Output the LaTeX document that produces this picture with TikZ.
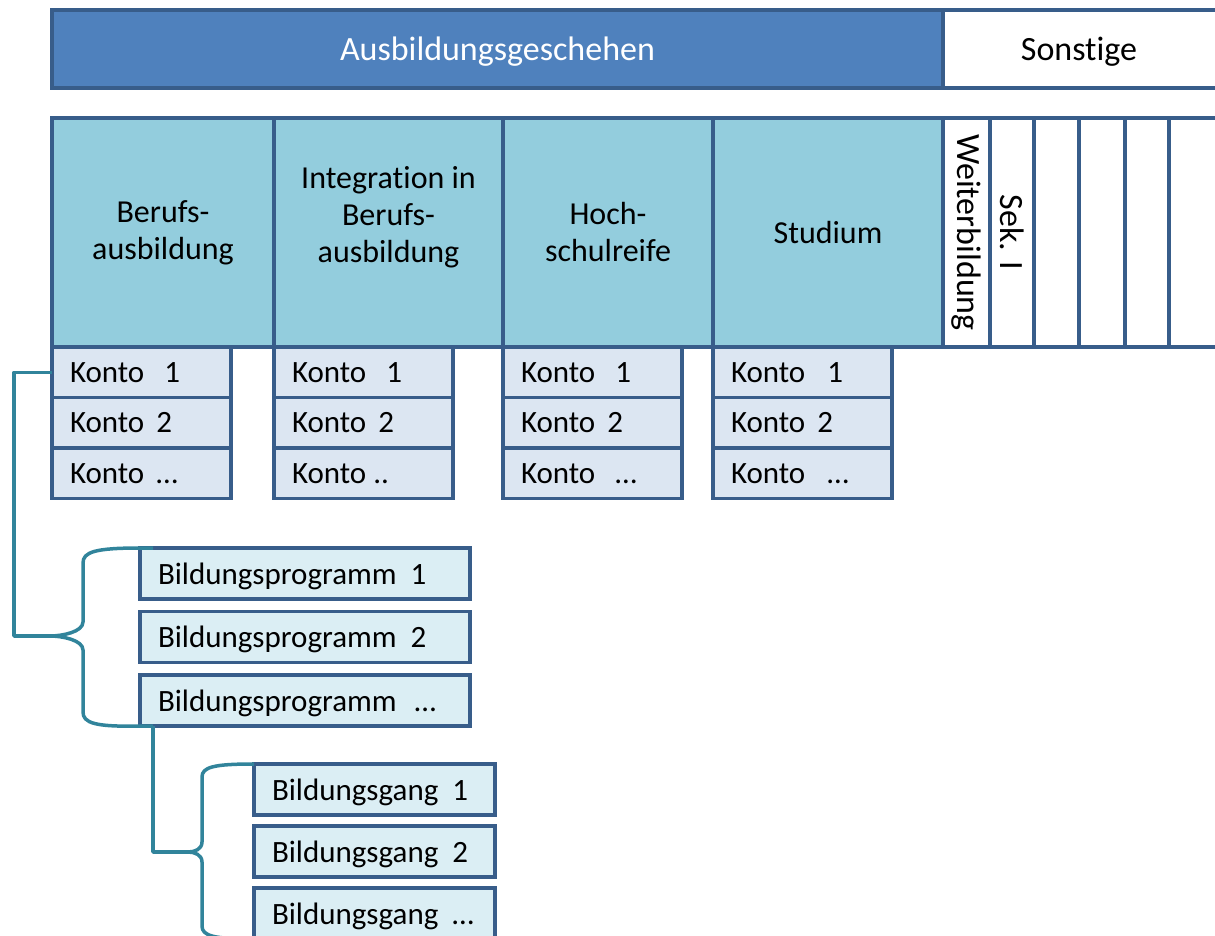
\documentclass[tikz,border=0pt]{standalone}
\usepackage{fontspec}
\setmainfont{Carlito}[Ligatures=NoCommon]
\usetikzlibrary{positioning}
\definecolor{rahmen}{HTML}{385D8A}
\definecolor{dunkelblau}{HTML}{4F81BD}
\definecolor{hellblau}{HTML}{93CDDD}
\definecolor{kontofarbe}{HTML}{DCE6F2}
\definecolor{progfarbe}{HTML}{DBEEF4}
\definecolor{klammer}{HTML}{31849B}
\begin{document}
\begin{tikzpicture}[x=1pt,y=-1pt,line width=3.5pt,
  feld/.style={draw=rahmen,inner sep=0pt,outer sep=0pt,anchor=north west,
    align=center,font=\fontsize{32}{37}\selectfont},
  kopf/.style={feld,minimum height=78,text depth=0pt,font=\fontsize{34}{40}\selectfont},
  spalte/.style={feld,fill=hellblau,minimum height=229},
  leer/.style={feld,fill=white,minimum height=229},
  hochkant/.style={rotate=-90,font=\fontsize{34}{40}\selectfont},
  konto/.style={feld,fill=kontofarbe,text width=143,inner xsep=18,align=left,
    minimum height=50.5,font=\fontsize{31}{36}\selectfont},
  prog/.style={konto,fill=progfarbe,text width=294,minimum height=51,text depth=0pt},
  gang/.style={prog,text width=205},
  klammerlinie/.style={draw=klammer,line width=3.5pt,line join=round}]
  \useasboundingbox (0,0) rectangle (1215,936);
  \node[kopf,fill=dunkelblau,text=white,minimum width=891] (ausb) at (52,10) {Ausbildungsgeschehen};
  \node[kopf,fill=white,minimum width=290] (sonst) at (943,10) {Sonstige\hspace{18pt}};
  \node[spalte,minimum width=222] (beruf) at (52,118) {Berufs-\\ausbildung};
  \node[spalte,minimum width=229] (integr) at (274,118) {Integration in\\Berufs-\\ausbildung\\\mbox{}};
  \node[spalte,minimum width=210] (hoch) at (503,118) {Hoch-\\schulreife};
  \node[spalte,minimum width=230] (stud) at (713,118) {Studium};
  \node[leer,minimum width=47] (weiter) at (943,118) {};
  \node[hochkant] (tweiter) at (weiter.center) {Weiterbildung};
  \node[leer,minimum width=44] (sek) at (990,118) {};
  \node[hochkant] (tsek) at (sek.center) {Sek. I};
  \node[leer,minimum width=45] (leer1) at (1034,118) {};
  \node[leer,minimum width=46] (leer2) at (1079,118) {};
  \node[leer,minimum width=44] (leer3) at (1125,118) {};
  \node[leer,minimum width=60] (leer4) at (1169,118) {};

  \node[konto] (k11) at (beruf.south west) {Konto\hspace{20pt}1};
  \node[konto,below=0pt of k11] (k12) {Konto\hspace{12pt}2};
  \node[konto,below=0pt of k12] (k13) {Konto\hspace{12pt}…};
  \node[konto] (k21) at (integr.south west) {Konto\hspace{20pt}1};
  \node[konto,below=0pt of k21] (k22) {Konto\hspace{12pt}2};
  \node[konto,below=0pt of k22] (k23) {Konto\hspace{7pt}..};
  \node[konto] (k31) at (hoch.south west) {Konto\hspace{20pt}1};
  \node[konto,below=0pt of k31] (k32) {Konto\hspace{12pt}2};
  \node[konto,below=0pt of k32] (k33) {Konto\hspace{20pt}…};
  \node[konto] (k41) at (stud.south west) {Konto\hspace{22pt}1};
  \node[konto,below=0pt of k41] (k42) {Konto\hspace{12pt}2};
  \node[konto,below=0pt of k42] (k43) {Konto\hspace{22pt}…};

  \node[prog] (bp1) at (140,548) {Bildungsprogramm\hspace{14pt}1};
  \node[prog,below=12.5pt of bp1] (bp2) {Bildungsprogramm\hspace{14pt}2};
  \node[prog,below=12.5pt of bp2] (bp3) {Bildungsprogramm\hspace{18pt}…};
  \node[gang] (bg1) at (254,764) {Bildungsgang\hspace{14pt}1};
  \node[gang,below=11pt of bg1] (bg2) {Bildungsgang\hspace{14pt}2};
  \node[gang,below=11pt of bg2] (bg3) {Bildungsgang\hspace{14pt}…};

  \coordinate (tip1) at (50,636);
  \coordinate (tip2) at (188,852);
  \draw[klammerlinie] (k11.west) -- ++(-38,0) |- (tip1);
  \draw[klammerlinie] ([xshift=13pt]bp1.north west) -- (bp1.north west)
    .. controls (95,548) and (83,552) .. (83,563) -- (83,622)
    .. controls (83,632) and (62,636) .. (tip1)
    .. controls (62,636) and (83,640) .. (83,650) -- (83,712)
    .. controls (83,723) and (95,727) .. (bp3.south west) -- ([xshift=13pt]bp3.south west);
  \draw[klammerlinie] ([xshift=13pt]bp3.south west) |- (tip2);
  \draw[klammerlinie] (bg1.north west)
    .. controls (214,764) and (202,767) .. (202,777) -- (202,842)
    .. controls (202,849) and (195,852) .. (tip2)
    .. controls (195,852) and (202,855) .. (202,862) -- (202,926)
    .. controls (202,936) and (214,939) .. (bg3.south west);
\end{tikzpicture}
\end{document}
